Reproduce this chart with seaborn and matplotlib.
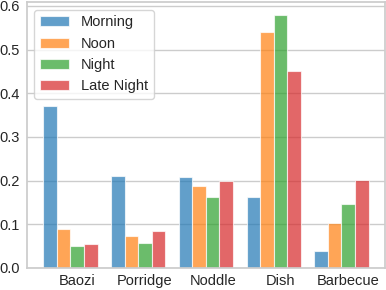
import matplotlib
matplotlib.use("Agg")
import matplotlib.pyplot as plt
import seaborn as sns
import pandas as pd

categories = ["Baozi", "Porridge", "Noddle", "Dish", "Barbecue"]
periods = ["Morning", "Noon", "Night", "Late Night"]
morning = [0.371, 0.211, 0.208, 0.163, 0.039]
noon = [0.089, 0.073, 0.188, 0.540, 0.103]
night = [0.050, 0.057, 0.163, 0.578, 0.147]
late_night = [0.055, 0.085, 0.199, 0.451, 0.202]

series = [morning, noon, night, late_night]
rows = []
for p, vals in zip(periods, series):
    for c, v in zip(categories, vals):
        rows.append({"food": c, "period": p, "value": v})
df = pd.DataFrame(rows)

sns.set_theme(style="whitegrid")
plt.rcParams["font.family"] = ["Liberation Sans", "DejaVu Sans"]

fig, ax = plt.subplots(figsize=(3.86, 2.90), dpi=100)
sns.barplot(data=df, x="food", y="value", hue="period", order=categories,
            hue_order=periods, palette="tab10", saturation=1, alpha=0.7,
            width=0.8, edgecolor="white", linewidth=0.8, errorbar=None, ax=ax)

ax.set_xticks([i + 0.1 for i in range(len(categories))])
ax.set_xticklabels(categories)
ax.set_xlim(-0.64, len(categories) - 1 + 0.64)
ax.set_ylim(0, 0.608)
ax.set_yticks([0.0, 0.1, 0.2, 0.3, 0.4, 0.5, 0.6])
ax.set_xlabel("")
ax.set_ylabel("")
ax.tick_params(axis="x", labelsize=10.5, length=0, pad=4)
ax.tick_params(axis="y", labelsize=10.5, length=0, pad=5.5)
sns.move_legend(ax, "upper left", title=None, fontsize=10.5)

fig.subplots_adjust(left=0.070, right=0.997, top=0.992, bottom=0.076)
fig.savefig("out.png", dpi=100)
